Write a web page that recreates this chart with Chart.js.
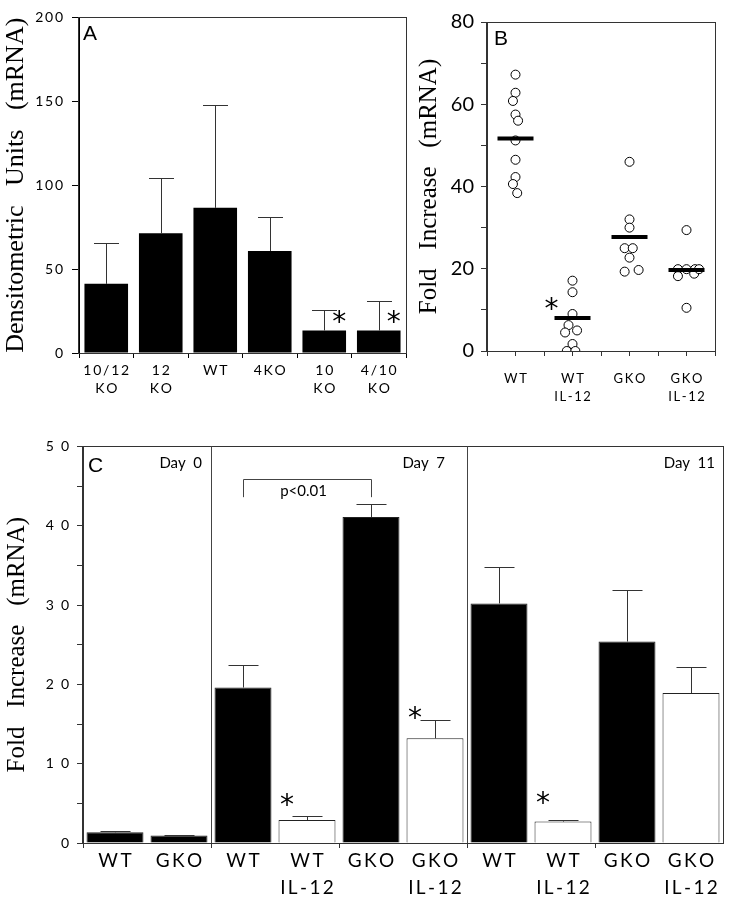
<!DOCTYPE html>
<html>
<head>
<meta charset="utf-8">
<script src="https://cdn.jsdelivr.net/npm/chart.js@4.4.0/dist/chart.umd.min.js"></script>
<style>
body { margin: 0; background: #fff; }
#wrap { position: relative; width: 737px; height: 899px; }
canvas { position: absolute; }
</style>
</head>
<body>
<div id="wrap">
  <canvas id="cA" width="410" height="440" style="left:0;top:0"></canvas>
  <canvas id="cB" width="327" height="440" style="left:410px;top:0"></canvas>
  <canvas id="cC" width="737" height="469" style="left:0;top:430px"></canvas>
</div>
<script>
// panel A - densitometry
var catsA = [['10/12', 'KO'], ['12', 'KO'], ['WT'], ['4KO'], ['10', 'KO'], ['4/10', 'KO']];
var meansA = [41.2, 71.3, 86.5, 60.8, 13.4, 13.4];
var errA = [65.5, 104.2, 147.9, 80.9, 25.8, 30.9];
var starsA = [4, 5];
var starYA = 22.5;

// panel B - individual mice
var catsB = [['WT'], ['WT', 'IL-12'], ['GKO'], ['GKO', 'IL-12']];
var ptsWT = [67.2, 62.8, 60.8, 57.5, 56, 51.2, 46.5, 42.3, 40.6, 38.4];
var jitWT = [0, 0, -0.045, 0, 0.045, 0, 0, 0, -0.045, 0.03];
var ptsWTIL = [17.1, 14.3, 9.0, 6.3, 4.5, 5.0, 1.7, 0, 0];
var jitWTIL = [0, 0, 0, -0.07, -0.13, 0.08, 0, -0.1, 0.05];
var ptsGKO = [46, 32, 30, 25, 25, 22.7, 19.3, 19.7];
var jitGKO = [0, 0, 0, -0.085, 0.057, 0, -0.085, 0.16];
var ptsGKOIL = [29.4, 19.9, 19.9, 19.9, 18.2, 18.8, 19.9, 10.5];
var jitGKOIL = [0, -0.15, 0, 0.15, -0.15, 0.135, 0.22, 0];
var meanB = [51.7, 8.0, 27.7, 19.7];
var starsB = [2];
var starYB = 12;

// panel C - time course
var catsC = [['WT'], ['GKO'], ['WT'], ['WT', 'IL-12'], ['GKO'], ['GKO', 'IL-12'],
             ['WT'], ['WT', 'IL-12'], ['GKO'], ['GKO', 'IL-12']];
var valsC = [1.35, 0.95, 19.6, 2.9, 41.1, 13.2, 30.2, 2.7, 25.4, 18.9];
var errC = [1.55, 1.0, 22.4, 3.35, 42.8, 15.5, 34.8, 2.85, 31.9, 22.2];
var il12C = [false, false, false, true, false, true, false, true, false, true];
var starsC = [3, 5, 7];
var starYC = [5.7, 16.6, 5.9];
var daysC = ['Day  0', 'Day  7', 'Day  11'];
var dayEnds = [1, 5, 9];
var bracketC = [2, 4];

Chart.defaults.font.family = 'Lato, "DejaVu Sans", sans-serif';
Chart.defaults.color = '#000';
Chart.defaults.animation = false;
Chart.defaults.responsive = false;
Chart.defaults.plugins.legend.display = false;
Chart.defaults.plugins.tooltip.enabled = false;

var serif = { family: '"Liberation Serif", "Times New Roman", serif', size: 25 };

function sp(s, ch) { return s.split('').join(ch || '\u2009'); }
function fixW(w) { return function(s) { s.width = w; }; }
function fixH(h) { return function(s) { s.height = h; }; }

function star(ctx, x, y) {
    ctx.font = '28px "DejaVu Sans"';
    ctx.textAlign = 'center';
    ctx.textBaseline = 'alphabetic';
    ctx.fillText('*', x, y + 16);
}

function letter(ctx, t, x, y) {
    ctx.font = '21px "Liberation Sans"';
    ctx.textAlign = 'left';
    ctx.textBaseline = 'alphabetic';
    ctx.fillText(t, x, y);
}

var boxPlugin = {
    id: 'box',
    afterDraw: function(chart) {
        var a = chart.chartArea, ctx = chart.ctx;
        ctx.save();
        ctx.strokeStyle = '#333';
        ctx.lineWidth = 1;
        ctx.strokeRect(Math.round(a.left) - 0.5, Math.round(a.top) + 0.5,
            Math.round(a.right - a.left) + 1, Math.round(a.bottom - a.top));
        ctx.restore();
    }
};

var errPlugin = {
    id: 'errbars',
    afterDatasetsDraw: function(chart, args, opts) {
        if (!opts.err) return;
        var meta = chart.getDatasetMeta(0), y = chart.scales.y, ctx = chart.ctx;
        ctx.save();
        ctx.strokeStyle = '#333';
        ctx.lineWidth = 1;
        opts.err.forEach(function(e, i) {
            var bar = meta.data[i];
            var x = Math.round(bar.x) + 0.5, top = Math.round(y.getPixelForValue(e)) + 0.5;
            ctx.beginPath();
            ctx.moveTo(x, bar.y);
            ctx.lineTo(x, top);
            ctx.moveTo(x - opts.cap / 2, top);
            ctx.lineTo(x + opts.cap / 2, top);
            ctx.stroke();
        });
        ctx.restore();
    }
};

Chart.register(boxPlugin, errPlugin);

// ---- A ----
new Chart(document.getElementById('cA'), {
    type: 'bar',
    data: {
        labels: catsA.map(function(l) { return l.map(function(s) { return sp(s); }); }),
        datasets: [{
            data: meansA,
            backgroundColor: '#000',
            borderColor: '#000',
            borderWidth: 0,
            barPercentage: 0.8,
            categoryPercentage: 1
        }]
    },
    options: {
        layout: { padding: { top: 10, right: 4, left: 0, bottom: 0 } },
        plugins: { errbars: { err: errA, cap: 25 } },
        scales: {
            x: {
                afterFit: fixH(87),
                grid: { drawOnChartArea: false, tickLength: 5, color: '#000' },
                border: { color: '#000' },
                ticks: { font: { size: 14, lineHeight: 1.25 }, padding: 4, maxRotation: 0, autoSkip: false }
            },
            y: {
                min: 0, max: 200,
                afterFit: fixW(79),
                grid: { drawOnChartArea: false, tickLength: 7, color: '#000' },
                border: { color: '#000' },
                ticks: { stepSize: 50, padding: 9, font: { size: 14 },
                    callback: function(v) { return sp(String(v)); } },
                title: { display: true, text: 'Densitometric   Units   (mRNA)',
                    font: { family: serif.family, size: 26 }, padding: { top: 1, bottom: 0 } }
            }
        }
    },
    plugins: [{
        id: 'notesA',
        afterDraw: function(chart) {
            var ctx = chart.ctx, a = chart.chartArea, y = chart.scales.y, meta = chart.getDatasetMeta(0);
            ctx.save();
            ctx.fillStyle = '#000';
            letter(ctx, 'A', a.left + 4, a.top + 23);
            starsA.forEach(function(i) { star(ctx, meta.data[i].x + 15, y.getPixelForValue(starYA)); });
            ctx.restore();
        }
    }]
});

// ---- B ----
var groupsB = [[ptsWT, jitWT], [ptsWTIL, jitWTIL], [ptsGKO, jitGKO], [ptsGKOIL, jitGKOIL]];
var dsB = [{
    data: meanB.map(function(m, i) { return { x: i + 1, y: m }; }),
    pointStyle: 'line',
    pointRadius: 18,
    pointBorderWidth: 4,
    borderColor: '#000'
}];
groupsB.forEach(function(g, i) {
    dsB.push({
        data: g[0].map(function(v, j) { return { x: i + 1 + g[1][j], y: v }; }),
        pointRadius: 4.5,
        pointBorderWidth: 1,
        pointBackgroundColor: '#fff',
        borderColor: '#000'
    });
});

new Chart(document.getElementById('cB'), {
    type: 'scatter',
    data: { datasets: dsB },
    options: {
        layout: { padding: { top: 10, right: 15, left: 0, bottom: 0 } },
        scales: {
            x: {
                type: 'linear', min: 0.5, max: 4.5,
                afterFit: fixH(89),
                grid: { drawOnChartArea: false, tickLength: 5, color: '#333' },
                border: { color: '#333' },
                ticks: { stepSize: 0.5, font: { size: 13, lineHeight: 1.4 }, padding: 14, maxRotation: 0, autoSkip: false,
                    callback: function(v) {
                        return Number.isInteger(v) ? catsB[v - 1].map(function(s) { return sp(s); }) : '';
                    } }
            },
            y: {
                min: 0, max: 80,
                afterFit: fixW(77),
                grid: { drawOnChartArea: false, tickLength: 6, color: '#333' },
                border: { color: '#333' },
                ticks: { stepSize: 10, padding: 7, font: { size: 20 },
                    callback: function(v) { return v % 20 === 0 ? String(v) : ''; } },
                title: { display: true, text: 'Fold   Increase   (mRNA)', font: serif, padding: { top: 4, bottom: 0 } }
            }
        }
    },
    plugins: [{
        id: 'notesB',
        afterDraw: function(chart) {
            var ctx = chart.ctx, a = chart.chartArea, x = chart.scales.x, y = chart.scales.y;
            ctx.save();
            ctx.fillStyle = '#000';
            letter(ctx, 'B', a.left + 7, a.top + 23);
            starsB.forEach(function(i) { star(ctx, x.getPixelForValue(i) - 21, y.getPixelForValue(starYB)); });
            ctx.restore();
        }
    }]
});

// ---- C ----
new Chart(document.getElementById('cC'), {
    type: 'bar',
    data: {
        labels: catsC.map(function(l) { return l.map(function(s) { return sp(s); }); }),
        datasets: [{
            data: valsC,
            backgroundColor: il12C.map(function(f) { return f ? '#fff' : '#000'; }),
            borderColor: '#222',
            borderWidth: 1,
            barPercentage: 0.89,
            categoryPercentage: 1
        }]
    },
    options: {
        layout: { padding: { top: 9, right: 14, left: 0, bottom: 0 } },
        plugins: { errbars: { err: errC, cap: 30 } },
        scales: {
            x: {
                afterFit: fixH(56),
                grid: { drawOnChartArea: false, tickLength: 5,
                    tickColor: function(c) { return c.index % 2 === 0 ? '#333' : 'rgba(0,0,0,0)'; } },
                border: { color: '#333' },
                ticks: { font: { size: 19, lineHeight: 1.4 }, padding: 0, maxRotation: 0, autoSkip: false }
            },
            y: {
                min: 0, max: 50,
                afterFit: fixW(83),
                grid: { drawOnChartArea: false, tickLength: 6, color: '#333' },
                border: { color: '#333' },
                ticks: { stepSize: 5, padding: 8, font: { size: 14 },
                    callback: function(v) { return v % 10 === 0 ? sp(String(v), '\u2002') : ''; } },
                title: { display: true, text: 'Fold   Increase   (mRNA)', font: serif, padding: { top: 2, bottom: 0 } }
            }
        }
    },
    plugins: [{
        id: 'notesC',
        afterDraw: function(chart) {
            var ctx = chart.ctx, a = chart.chartArea, y = chart.scales.y, meta = chart.getDatasetMeta(0);
            var step = meta.data[1].x - meta.data[0].x;
            ctx.save();
            ctx.fillStyle = '#000';
            ctx.strokeStyle = '#444';
            ctx.lineWidth = 1;
            // section dividers
            [1, 5].forEach(function(i) {
                var dx = Math.round(meta.data[i].x + step / 2) + 0.5;
                ctx.beginPath();
                ctx.moveTo(dx, a.top);
                ctx.lineTo(dx, a.bottom);
                ctx.stroke();
            });
            letter(ctx, 'C', a.left + 5, a.top + 26);
            ctx.font = '15px Lato';
            ctx.textAlign = 'right';
            ctx.textBaseline = 'alphabetic';
            var dayShift = [9, 22, 8];
            daysC.forEach(function(d, k) {
                ctx.fillText(d, meta.data[dayEnds[k]].x + step / 2 - dayShift[k], a.top + 22);
            });
            // p<0.01 bracket
            var bx1 = Math.round(meta.data[bracketC[0]].x) + 0.5, bx2 = Math.round(meta.data[bracketC[1]].x) + 0.5;
            var bTop = Math.round(y.getPixelForValue(45.9)) + 0.5, bFoot = y.getPixelForValue(43.6);
            ctx.beginPath();
            ctx.moveTo(bx1, bFoot); ctx.lineTo(bx1, bTop); ctx.lineTo(bx2, bTop); ctx.lineTo(bx2, bFoot);
            ctx.stroke();
            ctx.font = '15px Lato';
            ctx.textAlign = 'center';
            ctx.fillText('p<0.01', (bx1 + bx2) / 2 - 4, y.getPixelForValue(43.8));
            starsC.forEach(function(i, k) { star(ctx, meta.data[i].x - 20, y.getPixelForValue(starYC[k])); });
            ctx.restore();
        }
    }]
});
</script>
</body>
</html>
